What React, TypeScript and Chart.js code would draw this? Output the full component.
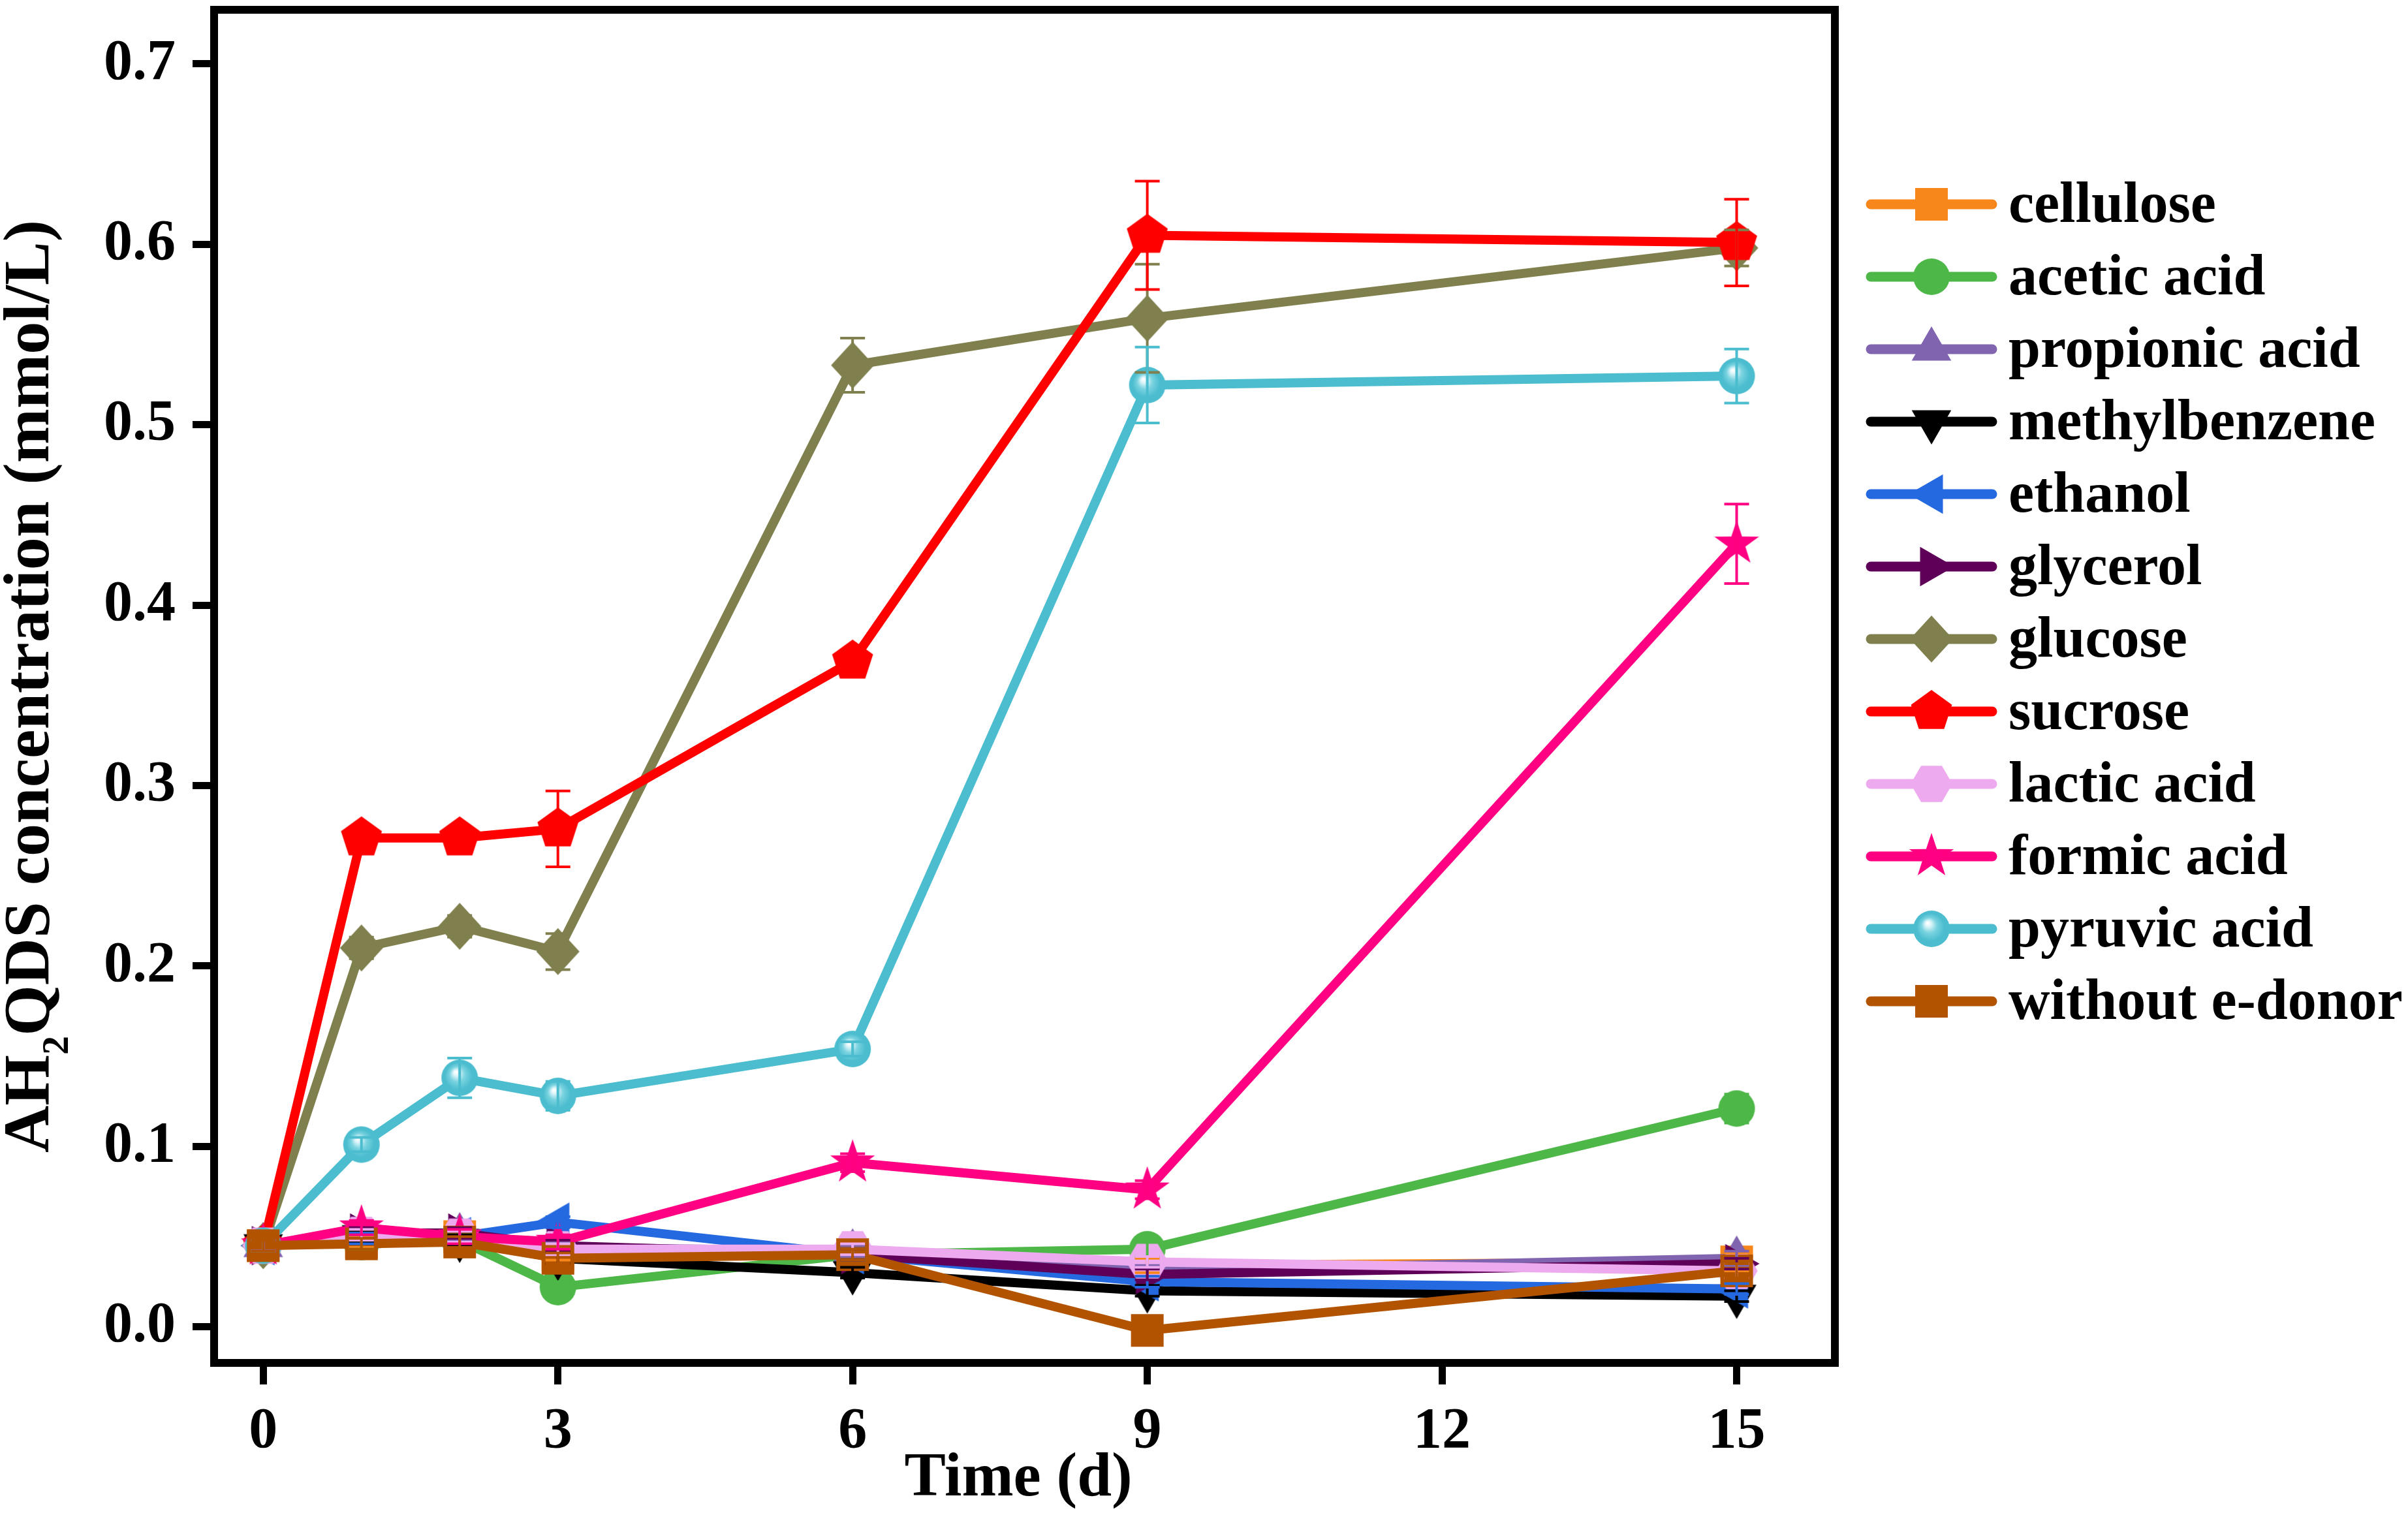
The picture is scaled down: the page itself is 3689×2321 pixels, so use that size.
import { useEffect, useRef } from 'react';
import { Chart, registerables } from 'chart.js';

Chart.register(...registerables);

const W = 3689;
const H = 2321;
const FONT = "'Times New Roman', 'Liberation Serif', serif";

// time points (d) and axis ticks
const days = [0, 1, 2, 3, 6, 9, 15];
const xTicks = [0, 3, 6, 9, 12, 15];
const yTicks = [0, 0.1, 0.2, 0.3, 0.4, 0.5, 0.6, 0.7];

// AH2QDS concentration (mmol/L), one array per electron donor
const cellulose = [0.045, 0.047, 0.050, 0.040, 0.040, 0.034, 0.036];
const aceticAcid = [0.045, 0.047, 0.048, 0.022, 0.040, 0.043, 0.121];
const propionicAcid = [0.045, 0.050, 0.051, 0.044, 0.042, 0.031, 0.038];
const methylbenzene = [0.045, 0.050, 0.048, 0.038, 0.030, 0.020, 0.017];
const ethanol = [0.045, 0.049, 0.050, 0.058, 0.040, 0.025, 0.021];
const glycerol = [0.045, 0.052, 0.052, 0.045, 0.040, 0.029, 0.035];
const glucose = [0.045, 0.210, 0.222, 0.208, 0.533, 0.559, 0.598];
const sucrose = [0.045, 0.271, 0.271, 0.276, 0.369, 0.605, 0.601];
const lacticAcid = [0.045, 0.051, 0.050, 0.043, 0.043, 0.036, 0.031];
const formicAcid = [0.045, 0.055, 0.050, 0.047, 0.091, 0.076, 0.434];
const pyruvicAcid = [0.045, 0.101, 0.138, 0.128, 0.154, 0.522, 0.527];
const withoutDonor = [0.045, 0.046, 0.047, 0.038, 0.040, -0.002, 0.031];

// standard deviations
const celluloseErr = [0.003, 0.003, 0.004, 0.003, 0.003, 0.004, 0.005];
const aceticErr = [0.003, 0.004, 0.003, 0.003, 0.003, 0.004, 0.008];
const propionicErr = [0.003, 0.003, 0.003, 0.003, 0.003, 0.003, 0.004];
const methylErr = [0.003, 0.003, 0.003, 0.003, 0.003, 0.003, 0.003];
const ethanolErr = [0.003, 0.003, 0.003, 0.003, 0.003, 0.003, 0.003];
const glycerolErr = [0.003, 0.003, 0.003, 0.003, 0.003, 0.003, 0.003];
const glucoseErr = [0.003, 0.006, 0.006, 0.010, 0.015, 0.030, 0.010];
const sucroseErr = [0.003, 0.005, 0.005, 0.021, 0.006, 0.030, 0.024];
const lacticErr = [0.003, 0.003, 0.003, 0.003, 0.003, 0.003, 0.004];
const formicErr = [0.003, 0.004, 0.004, 0.004, 0.005, 0.005, 0.022];
const pyruvicErr = [0.003, 0.004, 0.011, 0.008, 0.004, 0.021, 0.015];
const withoutErr = [0.003, 0.003, 0.003, 0.003, 0.003, 0.003, 0.004];

const names = [
  'cellulose', 'acetic acid', 'propionic acid', 'methylbenzene', 'ethanol', 'glycerol',
  'glucose', 'sucrose', 'lactic acid', 'formic acid', 'pyruvic acid', 'without e-donor',
];
const colors = [
  '#F7861B', '#4DB748', '#8064AF', '#000000', '#2469E0', '#5F0058',
  '#80804F', '#FF0000', '#EEAAEE', '#FF0082', '#4BBDCF', '#B25300',
];
const shapes = [
  'square', 'circle', 'up', 'down', 'left', 'right',
  'diamond', 'pentagon', 'hexagon', 'star', 'sphere', 'square',
];
const values = [
  cellulose, aceticAcid, propionicAcid, methylbenzene, ethanol, glycerol,
  glucose, sucrose, lacticAcid, formicAcid, pyruvicAcid, withoutDonor,
];
const errors = [
  celluloseErr, aceticErr, propionicErr, methylErr, ethanolErr, glycerolErr,
  glucoseErr, sucroseErr, lacticErr, formicErr, pyruvicErr, withoutErr,
];

// plot frame in page pixels
const AREA = { left: 328, top: 15, right: 2811, bottom: 2088 };

function makeMarker(shape: string, color: string) {
  const c = document.createElement('canvas');
  c.width = 80;
  c.height = 80;
  const ctx = c.getContext('2d')!;
  const cx = 40, cy = 40;
  const poly = (n: number, r: number, rot: number) => {
    for (let k = 0; k < n; k++) {
      const a = rot + (k * 2 * Math.PI) / n;
      const px = cx + r * Math.cos(a), py = cy + r * Math.sin(a);
      if (k) ctx.lineTo(px, py); else ctx.moveTo(px, py);
    }
    ctx.closePath();
  };
  ctx.beginPath();
  switch (shape) {
    case 'square': ctx.rect(cx - 25, cy - 25, 50, 50); break;
    case 'circle':
    case 'sphere': ctx.arc(cx, cy, 28, 0, Math.PI * 2); break;
    case 'up': poly(3, 35, -Math.PI / 2); break;
    case 'down': poly(3, 35, Math.PI / 2); break;
    case 'left': poly(3, 35, Math.PI); break;
    case 'right': poly(3, 35, 0); break;
    case 'diamond':
      ctx.moveTo(cx, cy - 36); ctx.lineTo(cx + 33, cy);
      ctx.lineTo(cx, cy + 36); ctx.lineTo(cx - 33, cy); ctx.closePath();
      break;
    case 'pentagon': poly(5, 33, -Math.PI / 2); break;
    case 'hexagon': poly(6, 32, 0); break;
    case 'star':
      for (let k = 0; k < 10; k++) {
        const r = k % 2 ? 14 : 36;
        const a = -Math.PI / 2 + (k * Math.PI) / 5;
        const px = cx + r * Math.cos(a), py = cy + r * Math.sin(a);
        if (k) ctx.lineTo(px, py); else ctx.moveTo(px, py);
      }
      ctx.closePath();
      break;
  }
  if (shape === 'sphere') {
    const g = ctx.createRadialGradient(cx - 6, cy - 9, 1, cx, cy, 28);
    g.addColorStop(0, '#ffffff');
    g.addColorStop(0.15, '#d6f3f8');
    g.addColorStop(0.4, '#7ad3e0');
    g.addColorStop(0.75, color);
    g.addColorStop(1, color);
    ctx.fillStyle = g;
  } else {
    ctx.fillStyle = color;
  }
  ctx.fill();
  return c;
}

const errorBars = {
  id: 'errorBars',
  afterDatasetsDraw(chart: Chart) {
    const { ctx } = chart;
    const y = chart.scales.y;
    ctx.save();
    ctx.lineWidth = 4;
    errors.forEach((errs, i) => {
      const meta = chart.getDatasetMeta(i);
      ctx.strokeStyle = colors[i];
      errs.forEach((e, j) => {
        const px = meta.data[j].x;
        const top = y.getPixelForValue(values[i][j] + e);
        const bot = y.getPixelForValue(values[i][j] - e);
        ctx.beginPath();
        ctx.moveTo(px, top); ctx.lineTo(px, bot);
        ctx.moveTo(px - 19, top); ctx.lineTo(px + 19, top);
        ctx.moveTo(px - 19, bot); ctx.lineTo(px + 19, bot);
        ctx.stroke();
      });
    });
    ctx.restore();
  },
};

const frameAndText = {
  id: 'frameAndText',
  afterDraw(chart: Chart) {
    const { ctx, chartArea: a } = chart;
    ctx.save();
    ctx.strokeStyle = '#000';
    ctx.lineWidth = 12;
    ctx.strokeRect(a.left, a.top, a.right - a.left, a.bottom - a.top);

    ctx.fillStyle = '#000';
    // x title
    ctx.font = `bold 95px ${FONT}`;
    ctx.textAlign = 'center';
    ctx.textBaseline = 'alphabetic';
    ctx.fillText('Time (d)', 1560, 2291);

    // y title with subscript
    const big = `bold 100px ${FONT}`;
    const small = `bold 58px ${FONT}`;
    ctx.textAlign = 'left';
    ctx.font = big;
    const w1 = ctx.measureText('AH').width;
    const w3 = ctx.measureText('QDS concentration (mmol/L)').width;
    ctx.font = small;
    const w2 = ctx.measureText('2').width;
    const total = w1 + w2 + w3;
    ctx.translate(74, (a.top + a.bottom) / 2);
    ctx.rotate(-Math.PI / 2);
    let x = -total / 2;
    ctx.font = big;
    ctx.fillText('AH', x, 0);
    x += w1;
    ctx.font = small;
    ctx.fillText('2', x, 30);
    x += w2;
    ctx.font = big;
    ctx.fillText('QDS concentration (mmol/L)', x, 0);
    ctx.restore();

    // legend
    ctx.save();
    ctx.font = `bold 88px ${FONT}`;
    ctx.textBaseline = 'middle';
    ctx.textAlign = 'left';
    ctx.lineCap = 'round';
    names.forEach((name, i) => {
      const ry = 313 + i * 111;
      ctx.strokeStyle = colors[i];
      ctx.lineWidth = 15;
      ctx.beginPath();
      ctx.moveTo(2866, ry);
      ctx.lineTo(3052, ry);
      ctx.stroke();
      const m = (chart.data.datasets[i] as any).pointStyle as HTMLCanvasElement;
      ctx.drawImage(m, 2959 - m.width / 2, ry - m.height / 2);
      ctx.fillStyle = '#000';
      ctx.fillText(name, 3077, ry + 4);
    });
    ctx.restore();
  },
};

export default function App() {
  const ref = useRef<HTMLCanvasElement>(null);

  useEffect(() => {
    if (!ref.current) return;
    Chart.defaults.font.family = FONT;
    Chart.defaults.color = '#000';
    const n = names.length;
    const chart = new Chart(ref.current, {
      type: 'line',
      data: {
        datasets: names.map((name, i) => ({
          label: name,
          data: days.map((d, j) => ({ x: d, y: values[i][j] })),
          borderColor: colors[i],
          backgroundColor: colors[i],
          borderWidth: 14,
          borderJoinStyle: 'round',
          pointStyle: makeMarker(shapes[i], colors[i]),
          pointRadius: 28,
          order: n - i,
        })),
      },
      options: {
        animation: false,
        responsive: false,
        devicePixelRatio: 1,
        layout: { padding: { left: 0, top: AREA.top, right: W - AREA.right, bottom: 0 } },
        plugins: { legend: { display: false }, tooltip: { enabled: false } },
        scales: {
          x: {
            type: 'linear',
            min: -0.5,
            max: 16,
            afterFit: (s: any) => {
              s.height = H - AREA.bottom;
              s.paddingLeft = 0;
              s.paddingRight = 0;
            },
            afterBuildTicks: (s: any) => { s.ticks = xTicks.map((v) => ({ value: v })); },
            grid: { drawOnChartArea: false, tickLength: 33, tickWidth: 11, tickColor: '#000' },
            border: { display: false },
            ticks: {
              autoSkip: false,
              maxRotation: 0,
              padding: 20,
              font: { size: 88, weight: 'bold' },
              callback: (v: any) => String(v),
            },
          },
          y: {
            min: -0.02,
            max: 0.73,
            afterFit: (s: any) => {
              s.width = AREA.left;
              s.paddingTop = 0;
              s.paddingBottom = 0;
            },
            afterBuildTicks: (s: any) => { s.ticks = yTicks.map((v) => ({ value: v })); },
            grid: { drawOnChartArea: false, tickLength: 33, tickWidth: 11, tickColor: '#000' },
            border: { display: false },
            ticks: {
              padding: 26,
              font: { size: 88, weight: 'bold' },
              callback: (v: any) => Number(v).toFixed(1),
            },
          },
        },
      },
      plugins: [
        {
          // pin the plot area to the reference frame
          id: 'pinArea',
          afterLayout(c: Chart) {
            const a = c.chartArea;
            if (a.top !== AREA.top || a.bottom !== AREA.bottom) {
              a.top = AREA.top;
              a.bottom = AREA.bottom;
              a.height = AREA.bottom - AREA.top;
              const y: any = c.scales.y;
              y.top = AREA.top;
              y.bottom = AREA.bottom;
              y.height = a.height;
              y.configure();
            }
          },
        },
        errorBars,
        frameAndText,
      ],
    } as any);
    return () => chart.destroy();
  }, []);

  return (
    <div style={{ position: 'absolute', left: 0, top: 0, width: W, height: H, background: '#fff' }}>
      <canvas ref={ref} width={W} height={H} style={{ width: W, height: H, display: 'block' }} />
    </div>
  );
}
